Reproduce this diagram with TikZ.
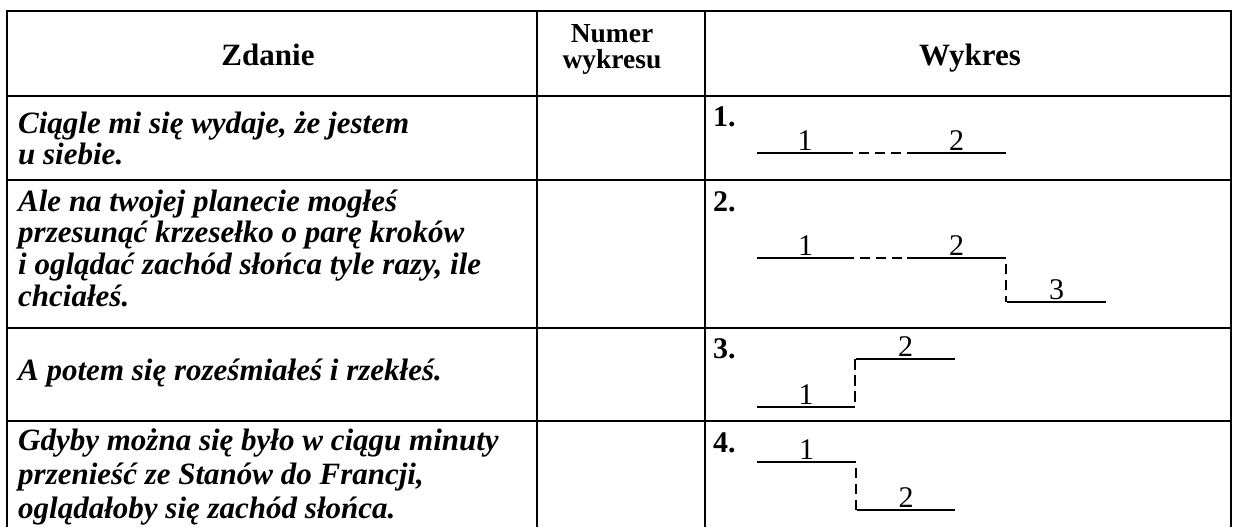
\documentclass[tikz,border=0pt]{standalone}
\usepackage{fontspec}
\setmainfont{Liberation Serif}

\begin{document}
\begin{tikzpicture}[x=1pt, y=-1pt,
  rule/.style = {line width=2.7pt},
  seg/.style = {line width=1.4pt},
  gap/.style = {line width=1.4pt, dash pattern=on 10.5pt off 5.5pt, dash phase=10.5pt},
  head/.style = {font=\fontsize{31}{32}\selectfont\bfseries, anchor=base, inner sep=0pt},
  subhead/.style = {font=\fontsize{27.5}{28}\selectfont\bfseries, anchor=base, inner sep=0pt},
  sent/.style = {font=\fontsize{31}{32}\selectfont\bfseries\itshape, anchor=base west, inner sep=0pt},
  nr/.style = {font=\fontsize{30}{32}\selectfont\bfseries, anchor=base west, inner sep=0pt},
  lbl/.style = {font=\fontsize{30}{32}\selectfont, above=2pt, inner sep=0pt}]

    \useasboundingbox (0,0) rectangle (1233,527);

    % table
    \draw[rule] (7,527) -- (7,11) -- (1231,11) -- (1231,527);
    \draw[rule] (537,11) -- (537,527);
    \draw[rule] (705,11) -- (705,527);
    \draw[rule] (7,96) -- (1231,96);
    \draw[rule] (7,180) -- (1231,180);
    \draw[rule] (7,328) -- (1231,328);
    \draw[rule] (7,421) -- (1231,421);

    % headers
    \node[head] (zd) at (268,66) {Zdanie};
    \node[subhead] (nu) at (612,42) {Numer};
    \node[subhead] (wy) at (612,68) {wykresu};
    \node[head] (wk) at (970,66) {Wykres};

    % sentences
    \node[sent] (s11) at (18,133) {Ciągle mi się wydaje, że jestem};
    \node[sent] (s12) at (18,164) {u siebie.};
    \node[sent] (s21) at (18,211) {Ale na twojej planecie mogłeś};
    \node[sent] (s22) at (18,242) {przesunąć krzesełko o parę kroków};
    \node[sent] (s23) at (18,274) {i oglądać zachód słońca tyle razy, ile};
    \node[sent] (s24) at (18,306) {chciałeś.};
    \node[sent] (s31) at (18,380) {A potem się roześmiałeś i rzekłeś.};
    \node[sent] (s41) at (18,450) {Gdyby można się było w ciągu minuty};
    \node[sent] (s42) at (18,484) {przenieść ze Stanów do Francji,};
    \node[sent] (s43) at (18,518) {oglądałoby się zachód słońca.};

    % numbers
    \node[nr] (n1) at (713,126) {1.};
    \node[nr] (n2) at (713,211) {2.};
    \node[nr] (n3) at (713,358) {3.};
    \node[nr] (n4) at (713,452) {4.};

    % diagram 1
    \coordinate (a1) at (757,153);
    \coordinate (a2) at (853,153);
    \coordinate (a3) at (907,153);
    \coordinate (a4) at (1006,153);
    \draw[seg] (a1) -- node[lbl] {1} (a2);
    \draw[gap] (a2) -- (a3);
    \draw[seg] (a3) -- node[lbl] {2} (a4);

    % diagram 2
    \coordinate (b1) at (757,258);
    \coordinate (b2) at (854,258);
    \coordinate (b3) at (907,258);
    \coordinate (b4) at (1006,258);
    \coordinate (b5) at (1007,302);
    \coordinate (b6) at (1106,302);
    \draw[seg] (b1) -- node[lbl] {1} (b2);
    \draw[gap] (b2) -- (b3);
    \draw[seg] (b3) -- node[lbl] {2} (b4);
    \draw[gap] (b4) -- (b4 |- b5);
    \draw[seg] (b5) -- node[lbl] {3} (b6);

    % diagram 3
    \coordinate (c1) at (757,407);
    \coordinate (c2) at (855,407);
    \coordinate (c3) at (856,359);
    \coordinate (c4) at (955,359);
    \draw[seg] (c1) -- node[lbl] {1} (c2);
    \draw[gap] (c2) -- (c2 |- c3);
    \draw[seg] (c3) -- node[lbl] {2} (c4);

    % diagram 4
    \coordinate (d1) at (757,462);
    \coordinate (d2) at (856,462);
    \coordinate (d3) at (857,510);
    \coordinate (d4) at (955,510);
    \draw[seg] (d1) -- node[lbl] {1} (d2);
    \draw[gap] (d2) -- (d2 |- d3);
    \draw[seg] (d3) -- node[lbl] {2} (d4);

\end{tikzpicture}
\end{document}
